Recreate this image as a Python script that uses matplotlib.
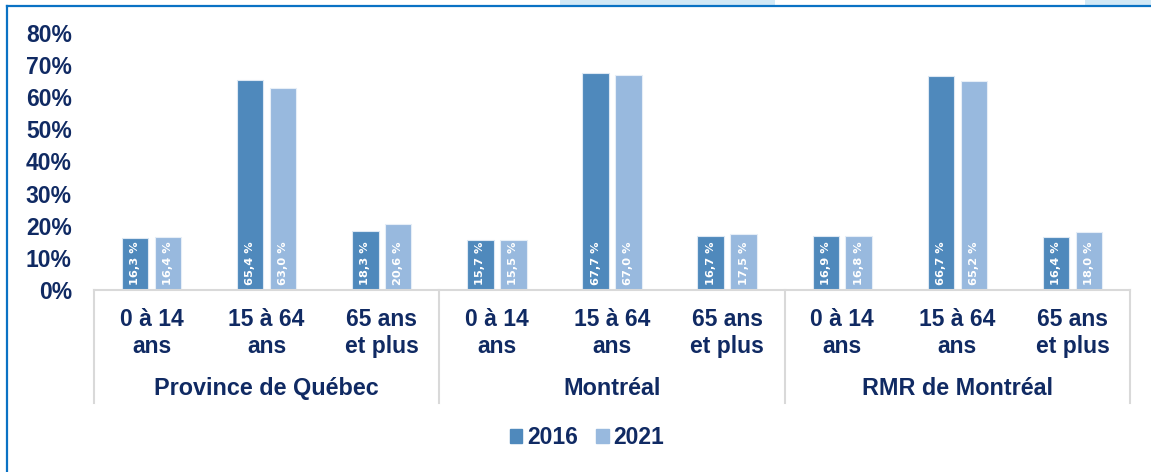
import matplotlib.pyplot as plt
import matplotlib.patches as mpatches
import numpy as np

# Data
groups = ["Province de Québec", "Montréal", "RMR de Montréal"]
age_labels = ["0 à 14\nans", "15 à 64\nans", "65 ans\net plus"]
years = ["2016", "2021"]
values_2016 = [16.3, 65.4, 18.3, 15.7, 67.7, 16.7, 16.9, 66.7, 16.4]
values_2021 = [16.4, 63.0, 20.6, 15.5, 67.0, 17.5, 16.8, 65.2, 18.0]
y_ticks = [0, 10, 20, 30, 40, 50, 60, 70, 80]

# Colors
dark_blue = "#4F89BC"
light_blue = "#98B9DE"
text_color = "#102A63"
grid_gray = "#D9D9D9"
frame_blue = "#0A72C4"

plt.rcParams['font.family'] = ['Liberation Sans', 'DejaVu Sans']

fig = plt.figure(figsize=(11.51, 4.72), dpi=100, facecolor="white")
ax = fig.add_axes([94 / 1151, 1 - 290 / 472, (1130 - 94) / 1151, (290 - 33) / 472])

x = np.arange(len(values_2016))
width = 0.23
off = 0.143
bars1 = ax.bar(x - off, values_2016, width, color=dark_blue, edgecolor="#DDE8F3", linewidth=0.8, label=years[0])
bars2 = ax.bar(x + off, values_2021, width, color=light_blue, edgecolor="#E6EEF7", linewidth=0.8, label=years[1])

# Value labels at the base of each bar, rotated
for bars, vals in [(bars1, values_2016), (bars2, values_2021)]:
    for b, v in zip(bars, vals):
        txt = f"{v:.1f} %".replace(".", ",")
        ax.text(b.get_x() + b.get_width() / 2, 1.5, txt, rotation=90,
                ha="center", va="bottom", color="white", fontsize=8.2,
                fontweight="bold", family=["DejaVu Sans"])

ax.set_xlim(-0.5, len(x) - 0.5)
ax.set_ylim(0, 80)
ax.set_yticks(y_ticks)
ax.set_yticklabels([f"{t}%" for t in y_ticks], fontsize=16.5, fontweight="bold", color=text_color)
ax.tick_params(axis="y", length=0, pad=16)
ax.set_xticks([])

for side in ["top", "right", "left"]:
    ax.spines[side].set_visible(False)
ax.spines["bottom"].set_color(grid_gray)
ax.spines["bottom"].set_linewidth(1.5)

# Multi-level category axis
for i in x:
    ax.text(i, -0.167, age_labels[i % 3], transform=ax.get_xaxis_transform(),
            ha="center", va="center", fontsize=16.5, fontweight="bold",
            color=text_color, linespacing=1.25)
for g, name in enumerate(groups):
    ax.text(g * 3 + 1, -0.382, name, transform=ax.get_xaxis_transform(),
            ha="center", va="center", fontsize=16.8, fontweight="bold", color=text_color)
for b in [-0.5, 2.5, 5.5, 8.5]:
    ax.plot([b, b], [0, -0.44], transform=ax.get_xaxis_transform(),
            color=grid_gray, linewidth=1.5, clip_on=False)

# Legend
handles = [mpatches.Patch(color=dark_blue, label=years[0]),
           mpatches.Patch(color=light_blue, label=years[1])]
fig.legend(handles=handles, loc="center", bbox_to_anchor=(587 / 1151, 1 - 438 / 472),
           ncol=2, frameon=False, prop={"weight": "bold", "size": 16.5},
           labelcolor=text_color, handlelength=0.55, handleheight=0.55,
           handletextpad=0.2, columnspacing=0.8)

# Frame decoration
fig.add_artist(mpatches.Rectangle((560 / 1151, 1 - 5 / 472), 215 / 1151, 5 / 472,
                                  transform=fig.transFigure, color="#D2E9F6", lw=0))
fig.add_artist(mpatches.Rectangle((1085 / 1151, 1 - 5 / 472), 66 / 1151, 5 / 472,
                                  transform=fig.transFigure, color="#D2E9F6", lw=0))
fig.add_artist(plt.Line2D([6.5 / 1151, 1], [1 - 5.5 / 472, 1 - 5.5 / 472],
                          transform=fig.transFigure, color=frame_blue, linewidth=1.6))
fig.add_artist(plt.Line2D([6.5 / 1151, 6.5 / 1151], [0, 1 - 5.5 / 472],
                          transform=fig.transFigure, color=frame_blue, linewidth=1.6))

fig.savefig("out.png", dpi=100, facecolor="white")
